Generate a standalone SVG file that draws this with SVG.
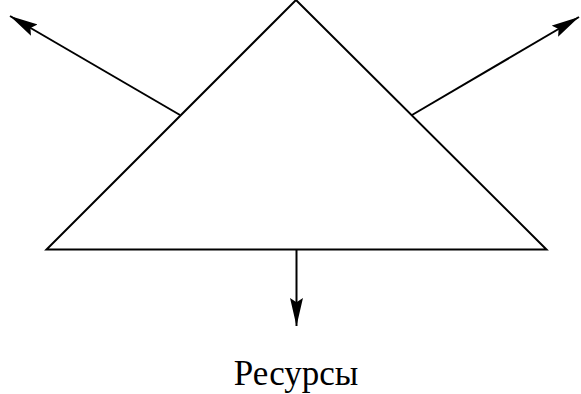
<svg xmlns="http://www.w3.org/2000/svg" width="581" height="394" viewBox="0 0 581 394">
<defs>
<style>
.ln{stroke:#000;stroke-width:2;fill:none}
.lbl{font-family:"Liberation Serif","DejaVu Serif","Times New Roman",serif;font-size:35px;fill:#000}
</style>
<marker id="ah" markerUnits="userSpaceOnUse" markerWidth="28" markerHeight="14" viewBox="0 0 26 12" refX="26" refY="6" orient="auto">
<path d="M0,0 L26,6 L0,12 L4,6 Z" fill="#000"/>
</marker>
</defs>
<g id="triangle">
<polygon class="ln" points="296,0 46.5,249.5 546.5,249.5"/>
</g>
<g id="label">
<text class="lbl" x="296" y="385" text-anchor="middle">Ресурсы</text>
</g>
<g id="connectors">
<line class="ln" x1="180" y1="115" x2="10" y2="16" marker-end="url(#ah)"/>
<line class="ln" x1="412" y1="115" x2="579" y2="17" marker-end="url(#ah)"/>
<line class="ln" x1="296.5" y1="250" x2="296.5" y2="326" marker-end="url(#ah)"/>
</g>
</svg>
